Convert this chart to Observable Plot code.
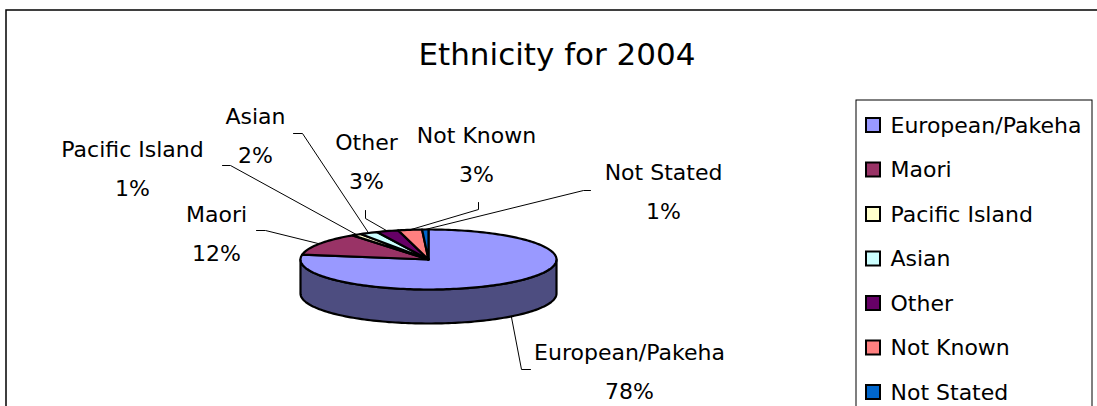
<!DOCTYPE html>
<html><head><meta charset="utf-8">
<script src="https://cdn.jsdelivr.net/npm/d3@7"></script>
<script src="https://cdn.jsdelivr.net/npm/@observablehq/plot@0.6"></script>
<style>html,body{margin:0;padding:0;background:#fff;overflow:hidden}</style>
</head><body><div id="chart"></div>
<script>
// ---- data ----
const title = "Ethnicity for 2004";
const categories = ["European/Pakeha","Maori","Pacific Island","Asian","Other","Not Known","Not Stated"];
const shares = [77.6, 12.3, 1.2, 2.3, 2.8, 3.0, 0.8];
const colors = ["#9999FF","#993366","#FFFFCC","#CCFFFF","#660066","#FF8080","#0066CC"];

// ---- layout ----
const W = 1097, H = 406;
const pie = {cx: 428, cy: 259, rx: 128, ry: 30, depth: 34};
const font = "'Comic Sans MS', 'DejaVu Sans', sans-serif";
const labelSize = 22;
const labelLayout = {
  "European/Pakeha": {x: 629, y: 367, elbow: [521, 369], end: [530, 369], side: true},
  "Maori":           {x: 216, y: 229, elbow: [265, 230], end: [256, 230]},
  "Pacific Island":  {x: 132, y: 164, elbow: [230, 165], end: [222, 165]},
  "Asian":           {x: 255, y: 131, elbow: [302, 133], end: [293, 133]},
  "Other":           {x: 366, y: 157, elbow: [365, 218], end: [365, 210]},
  "Not Known":       {x: 476, y: 150, elbow: [478, 209], end: [478, 202]},
  "Not Stated":      {x: 663, y: 187, elbow: [583, 190], end: [590, 190]}
};
const legend = {x1: 856, y1: 100, x2: 1092, y2: 430, rowY: 125, rowStep: 44.5, swX: 866, sw: 14, textX: 890};

// ---- geometry from data ----
const total = d3.sum(shares);
let acc = 0;
const slices = categories.map((c, i) => {
  const a0 = acc / total * 360; acc += shares[i];
  const a1 = acc / total * 360;
  return {category: c, value: shares[i], color: colors[i], a0, a1, mid: (a0 + a1) / 2};
});
const rad = d => d * Math.PI / 180;
const rim = (a, dy = 0) => ({x: pie.cx + pie.rx * Math.sin(rad(a)), y: pie.cy - pie.ry * Math.cos(rad(a)) + dy});
function arc(a0, a1, dy = 0) {
  const n = Math.max(2, Math.ceil(Math.abs(a1 - a0) / 1.5));
  return d3.range(n + 1).map(k => rim(a0 + (a1 - a0) * k / n, dy));
}
const darker = c => { const r = d3.rgb(c); return d3.rgb(r.r * 0.5, r.g * 0.5, r.b * 0.5).formatHex(); };

const marks = [];
// outer chart border
marks.push(Plot.rect([{x1: 6, y1: 10, x2: W + 20, y2: H + 20}], {x1: "x1", y1: "y1", x2: "x2", y2: "y2", fill: "white", stroke: "black", strokeWidth: 1.5}));
// 3D side walls (front half, 90..270 deg)
slices.forEach(s => {
  const lo = Math.max(s.a0, 90), hi = Math.min(s.a1, 270);
  if (hi <= lo) return;
  const pts = [...arc(lo, hi), ...arc(hi, lo, pie.depth)];
  marks.push(Plot.line(pts, {x: "x", y: "y", curve: "linear-closed", fill: darker(s.color), stroke: "black", strokeWidth: 2.2, strokeLinejoin: "round"}));
});
// top slices
slices.forEach(s => {
  const pts = [{x: pie.cx, y: pie.cy}, ...arc(s.a0, s.a1)];
  marks.push(Plot.line(pts, {x: "x", y: "y", curve: "linear-closed", fill: s.color, stroke: "black", strokeWidth: 2.2, strokeLinejoin: "round"}));
});
// leader lines
slices.forEach(s => {
  const L = labelLayout[s.category];
  const p = rim(s.mid, L.side ? pie.depth : 0);
  const pts = [p, {x: L.elbow[0], y: L.elbow[1]}, {x: L.end[0], y: L.end[1]}];
  marks.push(Plot.line(pts, {x: "x", y: "y", stroke: "black", strokeWidth: 1}));
});
// data labels
marks.push(Plot.text(slices, {
  x: d => labelLayout[d.category].x, y: d => labelLayout[d.category].y,
  text: d => `${d.category}\n${Math.round(d.value / total * 100)}%`,
  fontSize: labelSize, lineHeight: 39 / labelSize, fontFamily: font, fill: "black", textAnchor: "middle"
}));
// title
marks.push(Plot.text([title], {x: () => W / 2 + 8, y: () => 55, text: d => d, fontSize: 31, fontFamily: font, fill: "black"}));
// legend
marks.push(Plot.rect([legend], {x1: "x1", y1: "y1", x2: "x2", y2: "y2", fill: "white", stroke: "black", strokeWidth: 1}));
marks.push(Plot.rect(slices, {
  x1: () => legend.swX, x2: () => legend.swX + legend.sw,
  y1: (d, i) => legend.rowY + i * legend.rowStep - legend.sw / 2,
  y2: (d, i) => legend.rowY + i * legend.rowStep + legend.sw / 2,
  fill: d => d.color, stroke: "black", strokeWidth: 2
}));
marks.push(Plot.text(slices, {
  x: () => legend.textX, y: (d, i) => legend.rowY + i * legend.rowStep,
  text: "category", textAnchor: "start", fontSize: labelSize, fontFamily: font, fill: "black"
}));

const chart = Plot.plot({
  width: W, height: H, margin: 0,
  x: {type: "linear", domain: [0, W], range: [0, W], axis: null},
  y: {type: "linear", domain: [0, H], range: [0, H], axis: null},
  color: {type: "identity"},
  style: {background: "white", fontFamily: font, overflow: "hidden"},
  marks
});
document.getElementById("chart").append(chart);
</script>
</body></html>
